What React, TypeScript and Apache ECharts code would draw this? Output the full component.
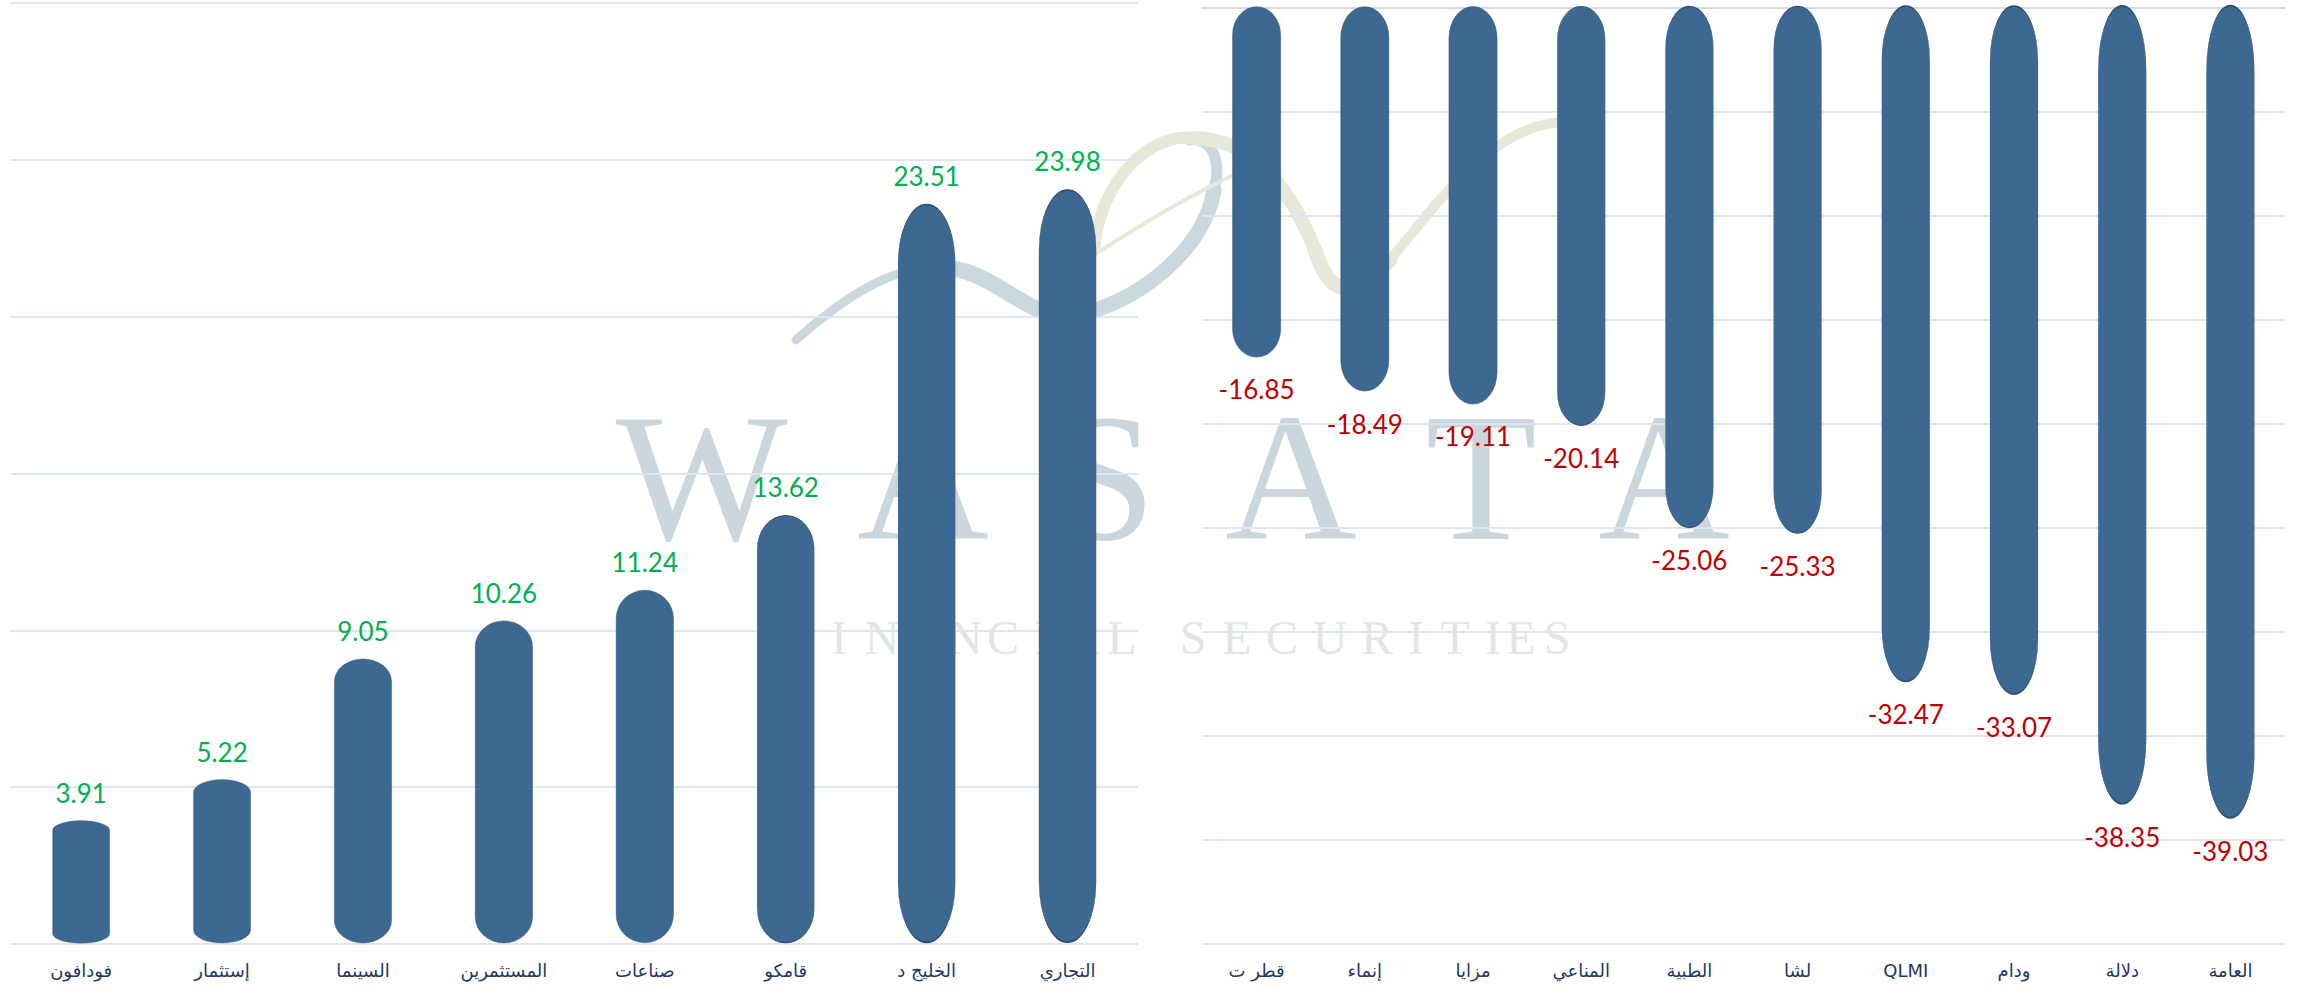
import React, { useEffect, useRef } from "react";
import * as echarts from "echarts";

const leftCategories = ["فودافون", "إستثمار", "السينما", "المستثمرين", "صناعات", "قامكو", "الخليج د", "التجاري"];
const leftValues = [3.91, 5.22, 9.05, 10.26, 11.24, 13.62, 23.51, 23.98];

const rightCategories = ["قطر ت", "إنماء", "مزايا", "المناعي", "الطبية", "لشا", "QLMI", "ودام", "دلالة", "العامة"];
const rightValues = [-16.85, -18.49, -19.11, -20.14, -25.06, -25.33, -32.47, -33.07, -38.35, -39.03];

const leftAxisMax = 30;
const rightAxisMin = -45;
const axisStep = 5;

const watermarkLetters = ["W", "A", "S", "A", "T", "A"];
const watermarkSub = "FINANCIAL SECURITIES";

const BAR_FILL = "#3D6891";
const BAR_EDGE = "#2C4E70";
const GRID_COLOR = "#DCE6F2";
const CAT_COLOR = "#1F3864";

const CAPSULE = "path://M0,80 A50,80 0 0 1 100,80 L100,920 A50,80 0 0 1 0,920 Z";

function buildWatermark(): any[] {
  const els: any[] = [];
  const letterX = [702, 923, 1105, 1291, 1481, 1664];
  watermarkLetters.forEach((ch, i) => {
    els.push({
      type: "text",
      z: -1,
      silent: true,
      x: letterX[i],
      y: 568,
      style: {
        text: ch,
        fill: "#CBD6DC",
        font: '182px "Liberation Serif", "DejaVu Serif", serif',
        textAlign: "center",
        textVerticalAlign: "bottom",
        textBaseline: "alphabetic",
      },
    });
  });
  const subX = [799, 839, 882, 924, 965, 1003, 1042, 1082, 1122, 0, 1193, 1237, 1282, 1330, 1377, 1416, 1455, 1493, 1521, 1557];
  watermarkSub.split("").forEach((ch, i) => {
    if (ch === " ") return;
    els.push({
      type: "text",
      z: -1,
      silent: true,
      x: subX[i],
      y: 637,
      style: {
        text: ch,
        fill: "#E2E6E3",
        font: '48px "Liberation Serif", "DejaVu Serif", serif',
        textAlign: "center",
        textVerticalAlign: "middle",
      },
    });
  });
  const blue = "#CAD7DD";
  const beige = "#E8E8DA";
  const curves: [number[], string, number][] = [
    [[796, 340, 950, 268, 850, 292, 900, 262], blue, 9],
    [[950, 268, 1075, 315, 1000, 275, 1030, 322], blue, 16],
    [[1075, 315, 1214, 190, 1135, 305, 1205, 250], blue, 15],
    [[1214, 190, 1190, 140, 1222, 160, 1212, 138], blue, 11],
    [[1094, 250, 1195, 138, 1100, 180, 1150, 132], beige, 12],
    [[1195, 138, 1315, 250, 1260, 140, 1295, 200], beige, 14],
    [[1315, 250, 1390, 260, 1330, 298, 1352, 300], beige, 15],
    [[1390, 260, 1560, 122, 1440, 200, 1490, 128], beige, 10],
    [[1094, 255, 1240, 172, 1140, 225, 1190, 195], beige, 4],
  ];
  curves.forEach(([c, color, w]) => {
    els.push({
      type: "bezierCurve",
      z: -1,
      silent: true,
      shape: { x1: c[0], y1: c[1], x2: c[2], y2: c[3], cpx1: c[4], cpy1: c[5], cpx2: c[6], cpy2: c[7] },
      style: { stroke: color, lineWidth: w, fill: "none", lineCap: "round" },
    });
  });
  return els;
}

export default function App() {
  const ref = useRef<HTMLDivElement>(null);

  useEffect(() => {
    if (!ref.current) return;
    const chart = echarts.init(ref.current, null, { renderer: "svg" });

    const catLabel = {
      interval: 0,
      margin: 17,
      fontSize: 18,
      color: CAT_COLOR,
      fontFamily: '"DejaVu Sans", sans-serif',
    };
    const valueFont = 'Lato, "Open Sans", sans-serif';

    const option: any = {
      animation: false,
      backgroundColor: "#FFFFFF",
      graphic: buildWatermark(),
      grid: [
        { left: 10.7, top: 3, width: 1127.3, height: 941 },
        { left: 1202.5, top: 8, width: 1082, height: 936 },
      ],
      xAxis: [
        {
          type: "category",
          gridIndex: 0,
          data: leftCategories,
          axisLine: { show: false, onZero: false },
          axisTick: { show: false },
          axisLabel: catLabel,
        },
        {
          type: "category",
          gridIndex: 1,
          position: "bottom",
          data: rightCategories,
          axisLine: { show: false, onZero: false },
          axisTick: { show: false },
          axisLabel: catLabel,
        },
        {
          type: "category",
          gridIndex: 1,
          position: "top",
          data: rightCategories,
          axisLine: { show: true, onZero: false, lineStyle: { color: "#D9D9D9", width: 2 } },
          axisTick: { show: false },
          axisLabel: { show: false },
        },
      ],
      yAxis: [
        {
          type: "value",
          gridIndex: 0,
          min: 0,
          max: leftAxisMax,
          interval: axisStep,
          axisLine: { show: false },
          axisTick: { show: false },
          axisLabel: { show: false },
          splitLine: { show: true, lineStyle: { color: GRID_COLOR, width: 2 } },
        },
        {
          type: "value",
          gridIndex: 1,
          min: rightAxisMin,
          max: 0,
          interval: axisStep,
          axisLine: { show: false },
          axisTick: { show: false },
          axisLabel: { show: false },
          splitLine: { show: true, lineStyle: { color: GRID_COLOR, width: 2 } },
        },
      ],
      series: [
        {
          type: "pictorialBar",
          xAxisIndex: 0,
          yAxisIndex: 0,
          data: leftValues,
          symbol: CAPSULE,
          symbolSize: ["100%", "100%"],
          barWidth: 57,
          z: 3,
          itemStyle: { color: BAR_FILL, borderColor: BAR_EDGE, borderWidth: 1 },
          label: {
            show: true,
            position: "top",
            distance: 14,
            color: "#00B050",
            fontSize: 26,
            fontFamily: valueFont,
            formatter: (p: any) => Number(p.value).toFixed(2),
          },
        },
        {
          type: "pictorialBar",
          xAxisIndex: 1,
          yAxisIndex: 1,
          data: rightValues,
          symbol: CAPSULE,
          symbolSize: ["100%", "100%"],
          barWidth: 48,
          z: 3,
          itemStyle: { color: BAR_FILL, borderColor: BAR_EDGE, borderWidth: 1 },
          label: {
            show: true,
            position: "bottom",
            distance: 18,
            color: "#C00000",
            fontSize: 26,
            fontFamily: valueFont,
            formatter: (p: any) => Number(p.value).toFixed(2),
          },
        },
      ],
    };

    chart.setOption(option);
    return () => chart.dispose();
  }, []);

  return (
    <div
      ref={ref}
      style={{ position: "absolute", left: 0, top: 0, width: 2303, height: 989, background: "#FFFFFF" }}
    />
  );
}
